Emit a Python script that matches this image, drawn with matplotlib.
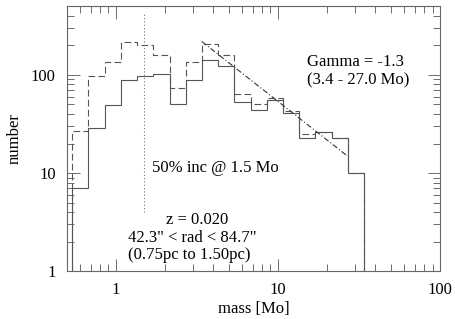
import numpy as np
import matplotlib
matplotlib.use('Agg')
import matplotlib.pyplot as plt

# bin edges (mass, Mo), 0.1 dex wide
edges = [0.539, 0.679, 0.855, 1.076, 1.355, 1.706, 2.148, 2.704, 3.404, 4.285,
         5.395, 6.792, 8.551, 10.76, 13.55, 17.06, 21.48, 27.04, 34.04]
# counts per bin
solid_counts = [7, 29, 49, 88, 98, 102, 50, 88, 141, 123, 53, 44, 55, 41, 23, 26, 23, 10]
dashed_counts = [27, 98, 134, 216, 201, 160, 73, 134, 206, 160, 64, 51, 58, 43, 25, 26, 23, 10]

# power law fit
gamma = -1.3
fit_range = [3.4, 27.0]
fit_norm = 1075.0
completeness_mass = 1.5
completeness_span = [4.0, 440.0]

plt.rcParams['font.family'] = ['Liberation Serif', 'DejaVu Serif']
plt.rcParams['font.size'] = 12

fig = plt.figure(figsize=(4.55, 3.19), dpi=100)
ax = fig.add_axes([0.147, 0.150, 0.820, 0.830])

lc = '#555555'
ax.stairs(solid_counts, edges, baseline=0.1, color=lc, lw=0.8)
ax.stairs(dashed_counts, edges, baseline=0.1, color=lc, lw=0.8,
          linestyle=(0, (6, 3)))

fx = np.array(fit_range)
ax.plot(fx, fit_norm * fx ** gamma, color='#333333', lw=0.8,
        linestyle=(0, (5, 2, 1, 2)))
ax.plot([completeness_mass, completeness_mass], completeness_span,
        color='#777777', lw=0.8, linestyle=(0, (1, 2)))

ax.set_xscale('log')
ax.set_yscale('log')
ax.set_xlim(0.5, 100)
ax.set_ylim(1, 500)
ax.set_xticks([1, 10, 100])
ax.set_xticklabels(['1', '10', '100'])
ax.set_yticks([1, 10, 100])
ax.set_yticklabels(['1', '10', '100'])
ax.tick_params(which='both', direction='in', top=True, right=True,
               color=lc, width=0.6)
ax.tick_params(which='major', length=9, pad=8)
ax.tick_params(which='minor', length=5)
for s in ax.spines.values():
    s.set_color('#666666')
    s.set_linewidth(0.8)

ax.set_xlabel('mass [Mo]', labelpad=2)
ax.set_ylabel('number', labelpad=6)


def px(x, y):
    # figure pixel position -> figure fraction
    return (x / 455.0, 1 - y / 319.0)


ax.text(*px(307, 62), 'Gamma = -1.3', transform=fig.transFigure, va='center')
ax.text(*px(307, 80), '(3.4 - 27.0 Mo)', transform=fig.transFigure, va='center')
ax.text(*px(152, 168), '50% inc @ 1.5 Mo', transform=fig.transFigure, va='center')
ax.text(*px(197, 220), 'z = 0.020', transform=fig.transFigure, va='center', ha='center')
ax.text(*px(128, 238), '42.3" < rad < 84.7"', transform=fig.transFigure, va='center')
ax.text(*px(128, 255), '(0.75pc to 1.50pc)', transform=fig.transFigure, va='center')

fig.savefig('out.png', dpi=100)
